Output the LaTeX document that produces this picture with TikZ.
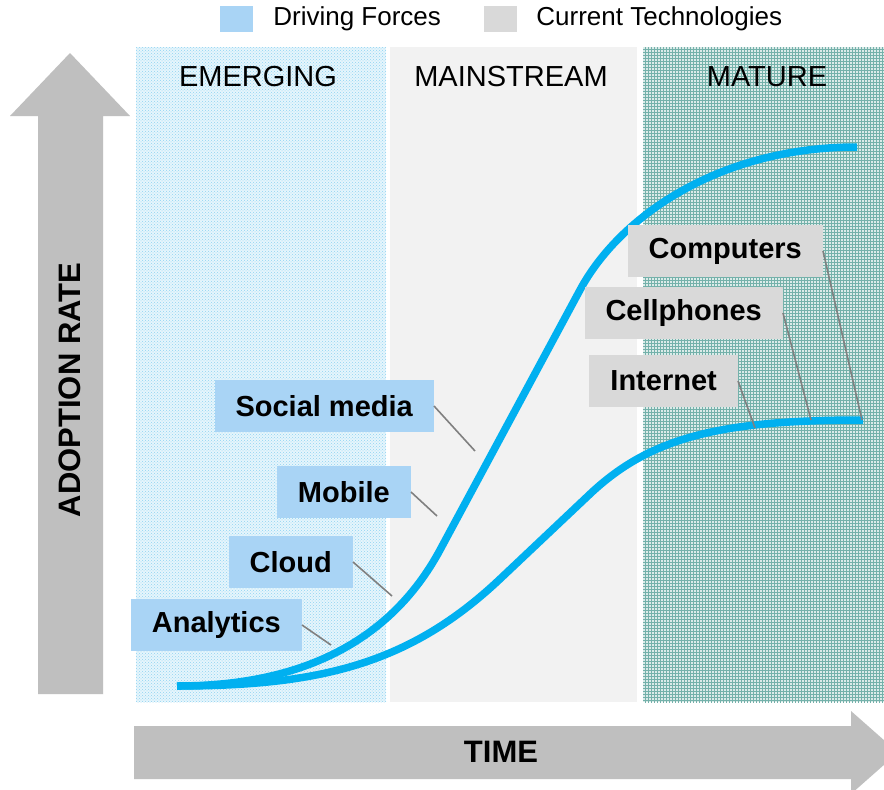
\documentclass[tikz,border=0pt]{standalone}
\usepackage{fontspec}
\setmainfont{Liberation Sans}
\usepackage{tikz}
\usetikzlibrary{positioning,patterns}
\definecolor{HypeCyan}{HTML}{00B0F0}
\definecolor{HypeBlue}{HTML}{A9D4F5}
\definecolor{HypeGray}{HTML}{D9D9D9}
\definecolor{HypeArrow}{HTML}{BFBFBF}
\definecolor{HypeLine}{HTML}{808080}
\definecolor{HypeMain}{HTML}{F2F2F2}
\definecolor{HypeDots}{HTML}{8FD3F2}
\definecolor{HypeTeal}{HTML}{5BA39B}
\tikzset{
  tagbox/.style={anchor=east, inner xsep=21pt, inner ysep=0pt, minimum height=52pt,
                 font=\fontsize{29}{34}\selectfont\bfseries},
  driver/.style={tagbox, fill=HypeBlue},
  tech/.style={tagbox, fill=HypeGray},
  phase/.style={font=\fontsize{29}{34}\selectfont},
  legendkey/.style={minimum width=33pt, minimum height=26pt, inner sep=0pt},
  legendtext/.style={inner sep=0pt, font=\fontsize{26}{30}\selectfont},
  axistext/.style={font=\fontsize{31}{36}\selectfont\bfseries},
  lead/.style={draw=HypeLine, line width=1.6pt},
  scurve/.style={draw=HypeCyan, line width=7.5pt}
}

\begin{document}
\begin{tikzpicture}[x=1pt, y=-1pt]
  \clip (0,0) rectangle (884,790);
  \fill[white] (0,0) rectangle (884,790);

  % phase bands
  \fill[HypeDots!22] (136,47) rectangle (386,702);
  \fill[pattern=crosshatch dots, pattern color=HypeDots] (136,47) rectangle (386,702);
  \fill[HypeMain] (390,47) rectangle (637,702);
  \fill[HypeTeal!22] (643,47) rectangle (884,702);
  \fill[pattern=grid, pattern color=HypeTeal!85] (643,47) rectangle (884,702);

  \node[phase] (emerging) at (258,77) {EMERGING};
  \node[phase] (mainstream) at (511,77) {MAINSTREAM};
  \node[phase] (mature) at (767,77) {MATURE};

  % legend
  \node[legendkey, fill=HypeBlue] (keydrive) at (236.5,19) {};
  \node[legendtext, right=20pt of keydrive] (txtdrive) {Driving Forces};
  \node[legendkey, fill=HypeGray] (keytech) at (500.5,19) {};
  \node[legendtext, right=19pt of keytech] (txttech) {Current Technologies};

  % axes
  \fill[HypeArrow] (38,694) -- (38,116) -- (10,116) -- (70,53) -- (130,116)
    -- (103,116) -- (103,694) -- cycle;
  \node[axistext, rotate=90] (yaxis) at (70,390) {ADOPTION RATE};
  \fill[HypeArrow] (134,726) -- (851,726) -- (851,711) -- (898,752.5) -- (851,794)
    -- (851,779) -- (134,779) -- cycle;
  \node[axistext] (xaxis) at (501,752) {TIME};

  % adoption curves
  \draw[scurve] (177,686) .. controls (300,686) and (390,642.5) .. (440,550)
    -- (580,290) .. controls (620,215.7) and (720,147) .. (857,147);
  \draw[scurve] (177,686) .. controls (320,686) and (410,664) .. (500,579)
    -- (590,494) .. controls (650,437.4) and (720,420) .. (863,420);

  \coordinate (onsocial) at (475,451);
  \coordinate (onmobile) at (437,516);
  \coordinate (oncloud) at (392,596);
  \coordinate (onanalytics) at (331,645);
  \coordinate (oncomputers) at (862,420);
  \coordinate (oncellphones) at (811,420);
  \coordinate (oninternet) at (755,428);

  % driving forces
  \node[driver] (social) at (434,406) {Social media};
  \node[driver] (mobile) at (411,492) {Mobile};
  \node[driver] (cloud) at (353,562) {Cloud};
  \node[driver] (analytics) at (302,625) {Analytics};

  % current technologies
  \node[tech] (computers) at (823,251) {Computers};
  \node[tech] (cellphones) at (783,313) {Cellphones};
  \node[tech] (internet) at (738,381) {Internet};

  \draw[lead] (social.east) -- (onsocial);
  \draw[lead] (mobile.east) -- (onmobile);
  \draw[lead] (cloud.east) -- (oncloud);
  \draw[lead] (analytics.east) -- (onanalytics);
  \draw[lead] (computers.east) -- (oncomputers);
  \draw[lead] (cellphones.east) -- (oncellphones);
  \draw[lead] (internet.east) -- (oninternet);
\end{tikzpicture}
\end{document}
